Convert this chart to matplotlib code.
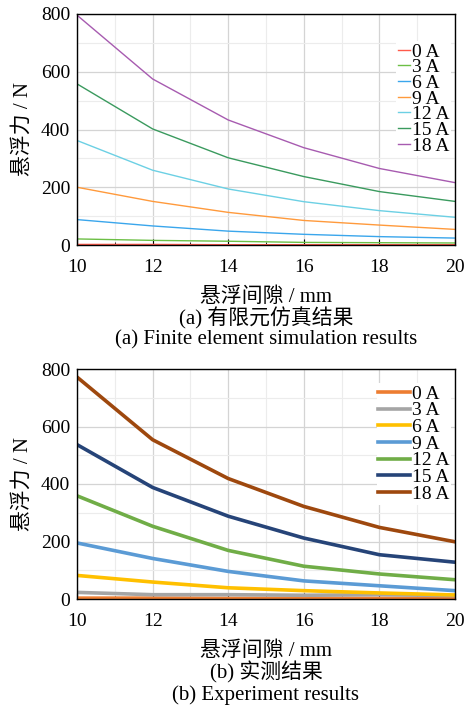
import numpy as np
import matplotlib
matplotlib.use("Agg")
import matplotlib.pyplot as plt
from matplotlib.ticker import MultipleLocator

plt.rcParams['font.family'] = ['Liberation Serif', 'Noto Sans CJK SC']

gap = [10, 12, 14, 16, 18, 20]
labels = ['0 A', '3 A', '6 A', '9 A', '12 A', '15 A', '18 A']

# finite element results
fe_0 = [2, 2, 1, 1, 1, 1]
fe_3 = [21, 16, 13, 9, 8, 7]
fe_6 = [88, 66, 48, 37, 29, 24]
fe_9 = [200, 151, 113, 85, 69, 54]
fe_12 = [362, 259, 194, 150, 119, 96]
fe_15 = [558, 402, 302, 237, 185, 151]
fe_18 = [796, 575, 433, 337, 265, 216]

# measured results
ex_0 = [3, 3, 2, 2, 2, 2]
ex_3 = [23, 15, 15, 13, 15, 12]
ex_6 = [82, 59, 39, 29, 21, 14]
ex_9 = [195, 141, 96, 63, 46, 29]
ex_12 = [359, 253, 169, 114, 87, 67]
ex_15 = [537, 388, 288, 212, 154, 128]
ex_18 = [772, 554, 419, 322, 249, 199]

fe_colors = ['#ff5a4a', '#6cbf45', '#3aa6ec', '#ff9a3c', '#6cd0e4', '#3a9a5e', '#a75bb0']
ex_colors = ['#ed7d31', '#a5a5a5', '#ffc000', '#5b9bd5', '#70ad47', '#264478', '#9e480e']

fig = plt.figure(figsize=(4.66, 7.09), dpi=100)
W, H = 466, 709
ax1 = fig.add_axes([77 / W, 1 - 245 / H, 378 / W, 231 / H])
ax2 = fig.add_axes([77 / W, 1 - 599 / H, 378 / W, 230 / H])


def style(ax):
    ax.set_xlim(10, 20)
    ax.set_ylim(0, 800)
    ax.xaxis.set_major_locator(MultipleLocator(2))
    ax.xaxis.set_minor_locator(MultipleLocator(1))
    ax.yaxis.set_major_locator(MultipleLocator(200))
    ax.yaxis.set_minor_locator(MultipleLocator(100))
    ax.grid(which='major', color='#d4d4d4', lw=0.9)
    ax.grid(which='minor', color='#ececec', lw=0.8)
    ax.set_axisbelow(True)
    ax.tick_params(which='both', direction='in', labelsize=14)
    ax.tick_params(axis='x', which='major', length=4, pad=10)
    ax.tick_params(axis='x', which='minor', length=2)
    ax.tick_params(axis='y', which='both', length=0, pad=5)
    for s in ax.spines.values():
        s.set_linewidth(1.0)
    ax.set_ylabel('悬浮力 / N', fontsize=15, labelpad=6)
    ax.set_xlabel('悬浮间隙 / mm', fontsize=15, labelpad=8)


fe = [fe_0, fe_3, fe_6, fe_9, fe_12, fe_15, fe_18]
for vals, c, lab in zip(fe, fe_colors, labels):
    ax1.plot(gap, vals, color=c, lw=1.0, label=lab)
style(ax1)
ax1.legend(loc='upper right', bbox_to_anchor=(1.0, 0.90), fontsize=14,
           frameon=True, fancybox=False, edgecolor='none', framealpha=1,
           handlelength=0.6, handletextpad=0.1, labelspacing=-0.1,
           borderpad=0.1, borderaxespad=0.2)

ex = [ex_0, ex_3, ex_6, ex_9, ex_12, ex_15, ex_18]
for vals, c, lab in zip(ex, ex_colors, labels):
    ax2.plot(gap, vals, color=c, lw=2.6, label=lab)
style(ax2)
ax2.legend(loc='upper right', bbox_to_anchor=(1.0, 0.955), fontsize=14,
           frameon=True, fancybox=False, edgecolor='none', framealpha=1,
           handlelength=1.6, handletextpad=0.1, labelspacing=-0.05,
           borderpad=0.1, borderaxespad=0.2)

xc = 0.5 * (77 + 455) / W
fig.text(xc, 1 - 318 / H, '(a) 有限元仿真结果', ha='center', va='center', fontsize=15)
fig.text(xc, 1 - 340 / H, '(a) Finite element simulation results', ha='center', va='center', fontsize=15)
fig.text(xc, 1 - 672 / H, '(b) 实测结果', ha='center', va='center', fontsize=15)
fig.text(xc, 1 - 695 / H, '(b) Experiment results', ha='center', va='center', fontsize=15)

fig.savefig('out.png', dpi=100)
